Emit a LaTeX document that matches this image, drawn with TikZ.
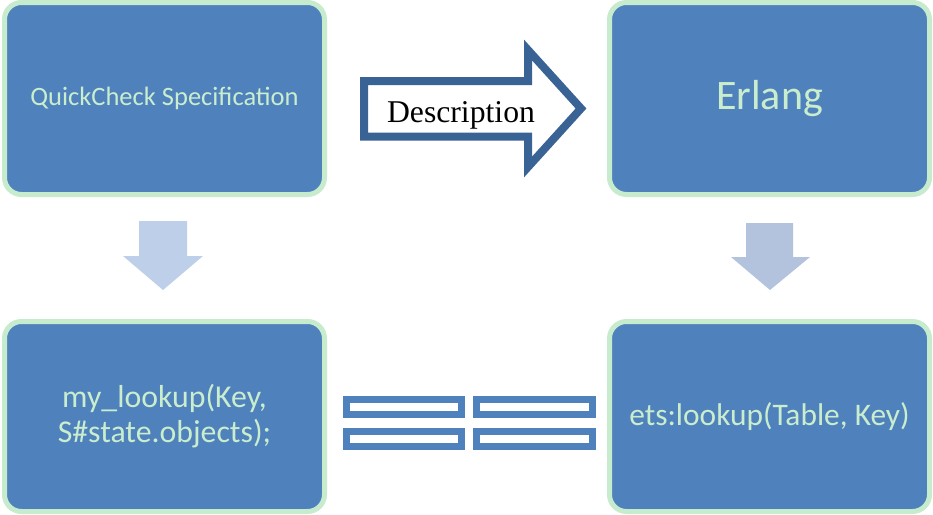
\documentclass[tikz,border=0pt]{standalone}
\usepackage{fontspec}
\setmainfont{Carlito}
\newfontfamily\descfont{Liberation Serif}
\usepackage{tikz}
\usetikzlibrary{calc,positioning}
\definecolor{boxblue}{HTML}{4F81BD}
\definecolor{mint}{HTML}{C6EBCD}
\definecolor{minttext}{HTML}{C9EDCD}
\definecolor{outline}{HTML}{3A6395}
\definecolor{paleleft}{HTML}{BDCFE9}
\definecolor{paleright}{HTML}{B3C3DE}

\begin{document}
\begin{tikzpicture}[x=1pt, y=-1pt,
  box/.style={rounded corners=17pt, fill=boxblue, draw=mint, line width=5pt, text=minttext,
    minimum width=320pt, minimum height=192pt, align=center, inner sep=0pt},
  eqbar/.style={draw=boxblue, line width=7pt}]
  \path[fill=white, use as bounding box] (0,0) rectangle (933,514);

  \node[box, font=\fontsize{26.5}{32}\selectfont] (spec) at (164.5,98.5) {QuickCheck Specification};
  \node[box, font=\fontsize{42}{50}\selectfont] (erl) at (769.5,98.5) {Erlang};
  \node[box, minimum height=190pt, font=\fontsize{31.8}{35}\selectfont] (mylookup) at (164.5,416.5)
    {my\_lookup(Key,\\S\#state.objects);};
  \node[box, minimum height=190pt, font=\fontsize{31.4}{36}\selectfont] (etslookup) at (769.5,416.5)
    {ets:lookup(Table, Key)};

  \draw[outline, line width=8pt] (364,81) -- (528,81) -- (528,50) -- (581,108.5)
    -- (528,167) -- (528,136.5) -- (364,136.5) -- cycle;
  \node[font=\descfont\fontsize{31.7}{36}\selectfont, anchor=base, inner sep=0pt] (desc) at (461,122) {Description};

  \coordinate (lefttop) at (163,221);
  \coordinate (righttop) at (770,223);
  \fill[paleleft] (lefttop) ++(-24,0) -- ++(48,0) -- ++(0,35) -- ++(16,0) -- ++(-40,34)
    -- ++(-40,-34) -- ++(16,0) -- cycle;
  \fill[paleright] (righttop) ++(-24,0) -- ++(47,0) -- ++(0,34) -- ++(17,0) -- ++(-40,33)
    -- ++(-39,-33) -- ++(15,0) -- cycle;

  \draw[eqbar] (346.5,399.5) rectangle (461.5,414.5);
  \draw[eqbar] (476.5,399.5) rectangle (592.5,414.5);
  \draw[eqbar] (346.5,431.5) rectangle (461.5,446.5);
  \draw[eqbar] (476.5,431.5) rectangle (592.5,446.5);
\end{tikzpicture}
\end{document}
